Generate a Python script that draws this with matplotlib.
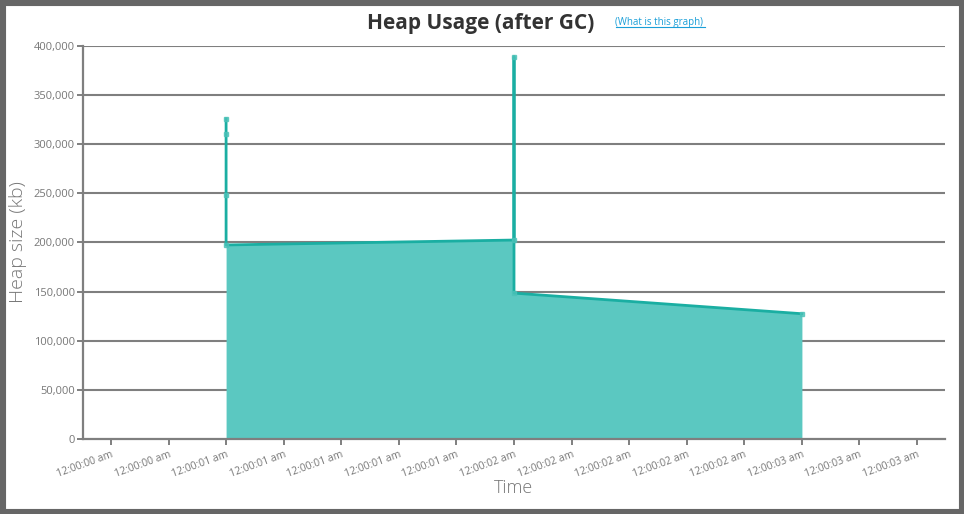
import matplotlib
matplotlib.use("Agg")
import matplotlib.pyplot as plt
from matplotlib.patches import Rectangle
from matplotlib.ticker import FuncFormatter

# Data (time in seconds after 12:00:00 am, heap in kb)
times = [1.0, 1.0, 1.0, 1.0, 2.0, 2.0, 2.0, 3.0]
heap_kb = [326000, 310000, 248000, 197500, 202500, 389000, 148500, 127500]

tick_positions = [0.6, 0.8, 1.0, 1.2, 1.4, 1.6, 1.8, 2.0, 2.2, 2.4, 2.6, 2.8, 3.0, 3.2, 3.4]
tick_labels = ["12:00:00 am", "12:00:00 am", "12:00:01 am", "12:00:01 am", "12:00:01 am",
               "12:00:01 am", "12:00:01 am", "12:00:02 am", "12:00:02 am", "12:00:02 am",
               "12:00:02 am", "12:00:02 am", "12:00:03 am", "12:00:03 am", "12:00:03 am"]
y_ticks = [0, 50000, 100000, 150000, 200000, 250000, 300000, 350000, 400000]

plt.rcParams['font.family'] = ['Open Sans', 'DejaVu Sans']

fig = plt.figure(figsize=(9.64, 5.14), dpi=100)
W, H = 964, 514
fig.patches.append(Rectangle((0, 0), 1, 1, transform=fig.transFigure,
                             facecolor='white', edgecolor='#666666', linewidth=8, zorder=-10))
ax = fig.add_axes([83 / W, 1 - 439 / H, (945 - 83) / W, (439 - 46) / H])

fill_c = '#5bc8c1'
line_c = '#1aaea2'
ax.fill_between(times, heap_kb, 0, color=fill_c, linewidth=0, zorder=2)
ax.plot(times, heap_kb, color=line_c, linewidth=2, zorder=3)
ax.plot(times, heap_kb, linestyle='none', marker='s', markersize=3.5,
        color='#4cc2b8', alpha=0.8, zorder=4)

ax.set_xlim(0.503, 3.497)
ax.set_ylim(0, 400000)
ax.set_yticks(y_ticks)
ax.yaxis.set_major_formatter(FuncFormatter(lambda v, p: f"{int(v):,}"))
ax.set_xticks(tick_positions)
ax.set_xticklabels(tick_labels, rotation=20, ha='right', rotation_mode='anchor')

for y in y_ticks[1:]:
    ax.axhline(y, color='#7f7f7f', linewidth=1.5, zorder=1)

for side in ['top', 'right']:
    ax.spines[side].set_visible(False)
for side in ['left', 'bottom']:
    ax.spines[side].set_color('#7f7f7f')
    ax.spines[side].set_linewidth(1.6)
    ax.spines[side].set_zorder(5)

ax.tick_params(axis='y', colors='#7f7f7f', labelcolor='#777777', labelsize=8, length=4, width=1.4, pad=2)
ax.tick_params(axis='x', colors='#7f7f7f', labelcolor='#777777', labelsize=7.5, length=4, width=1.4, pad=3)

ax.set_ylabel("Heap size (kb)", fontsize=14, fontweight='light', color='#777777', labelpad=5)
ax.set_xlabel("Time", fontsize=13, fontweight='light', color='#777777', labelpad=0)

fig.text(481 / W, 1 - 23 / H, "Heap Usage (after GC)", fontsize=15, fontweight='bold',
         color='#333333', ha='center', va='center')
fig.text(615 / W, 1 - 22 / H, "(What is this graph)", fontsize=7, color='#1a9fd8',
         ha='left', va='center')
fig.add_artist(plt.Line2D([616 / W, 705 / W], [1 - 27 / H, 1 - 27 / H], color='#1a9fd8', linewidth=0.8))

fig.savefig("out.png", dpi=100)
